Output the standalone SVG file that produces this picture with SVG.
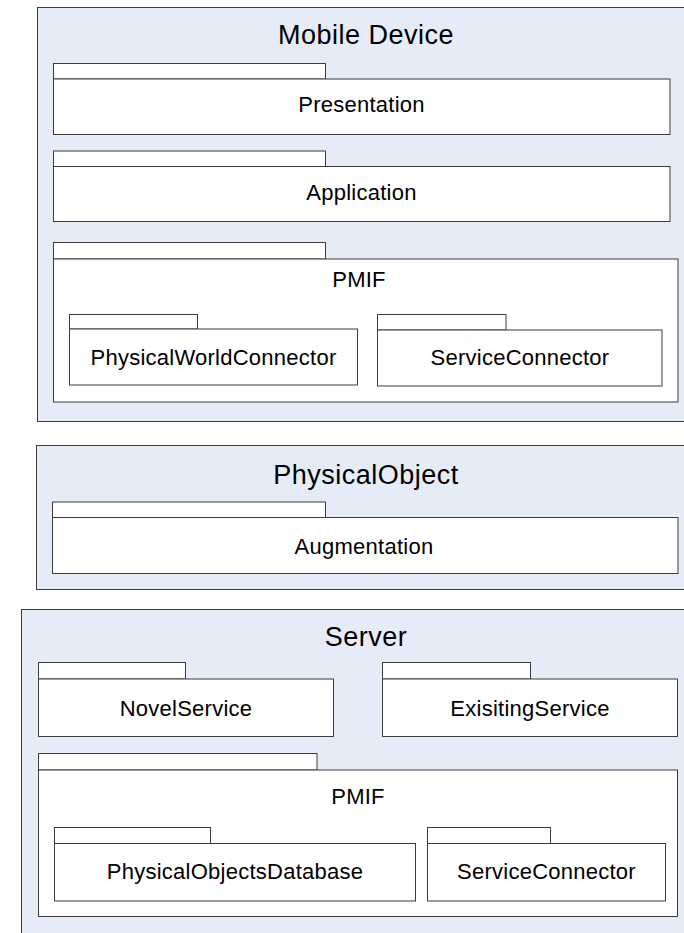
<svg xmlns="http://www.w3.org/2000/svg" width="684" height="933" viewBox="0 0 684 933">
<style>
.bg{fill:#ffffff}
.cont{fill:#e6ecf7;stroke:#3c3c3c;stroke-width:1}
.box{fill:#ffffff;stroke:#3c3c3c;stroke-width:1}
.t{font-family:"Liberation Sans",Arial,sans-serif;fill:#000;text-anchor:middle}
.big{font-size:27px;letter-spacing:0.5px}
.lbl{font-size:22px;letter-spacing:0.25px}
</style>
<rect class="bg" x="0" y="0" width="684" height="933"/>
<g id="mobile-device">
<rect class="cont" x="37.5" y="7.5" width="660" height="414"/>
<text class="t big" x="366" y="44">Mobile Device</text>
</g>
<g id="presentation">
<rect class="box" x="53.5" y="63.5" width="272" height="15.5"/>
<rect class="box" x="53.5" y="79" width="616.5" height="55.5"/>
<text class="t lbl" x="361.5" y="112">Presentation</text>
</g>
<g id="application">
<rect class="box" x="53.5" y="151" width="272" height="15.5"/>
<rect class="box" x="53.5" y="166.5" width="616.5" height="55"/>
<text class="t lbl" x="361.5" y="200">Application</text>
</g>
<g id="mobile-pmif">
<rect class="box" x="53.5" y="242.5" width="272" height="16.5"/>
<rect class="box" x="53.5" y="259" width="624.5" height="143"/>
<text class="t lbl" x="359" y="287">PMIF</text>
</g>
<g id="physical-world-connector">
<rect class="box" x="69.5" y="314.5" width="128" height="14.5"/>
<rect class="box" x="69.5" y="329" width="288" height="56"/>
<text class="t lbl" x="213.5" y="365">PhysicalWorldConnector</text>
</g>
<g id="mobile-service-connector">
<rect class="box" x="377.5" y="314.5" width="128.5" height="15.5"/>
<rect class="box" x="377.5" y="330" width="284.5" height="56"/>
<text class="t lbl" x="520" y="365">ServiceConnector</text>
</g>
<g id="physical-object">
<rect class="cont" x="36.5" y="445.5" width="660" height="144"/>
<text class="t big" x="366" y="484">PhysicalObject</text>
</g>
<g id="augmentation">
<rect class="box" x="52.5" y="502" width="273" height="15.5"/>
<rect class="box" x="52.5" y="517.5" width="625.5" height="56"/>
<text class="t lbl" x="364" y="554">Augmentation</text>
</g>
<g id="server">
<rect class="cont" x="21.5" y="609.5" width="680" height="340"/>
<text class="t big" x="366" y="646">Server</text>
</g>
<g id="novel-service">
<rect class="box" x="38.5" y="662.5" width="147" height="16.5"/>
<rect class="box" x="38.5" y="679" width="295" height="57.5"/>
<text class="t lbl" x="186" y="716">NovelService</text>
</g>
<g id="existing-service">
<rect class="box" x="382.5" y="662.5" width="148" height="16.5"/>
<rect class="box" x="382.5" y="679" width="295" height="57.5"/>
<text class="t lbl" x="530" y="716">ExisitingService</text>
</g>
<g id="server-pmif">
<rect class="box" x="38.5" y="753.5" width="278.5" height="16.5"/>
<rect class="box" x="38.5" y="770" width="639" height="146.5"/>
<text class="t lbl" x="358" y="804">PMIF</text>
</g>
<g id="physical-objects-database">
<rect class="box" x="54.5" y="827.5" width="156" height="16"/>
<rect class="box" x="54.5" y="843.5" width="361" height="57.5"/>
<text class="t lbl" x="235" y="879">PhysicalObjectsDatabase</text>
</g>
<g id="server-service-connector">
<rect class="box" x="427.5" y="827.5" width="123" height="16"/>
<rect class="box" x="427.5" y="843.5" width="238" height="57.5"/>
<text class="t lbl" x="546.5" y="879">ServiceConnector</text>
</g>
<g id="connectors"></g>
</svg>
